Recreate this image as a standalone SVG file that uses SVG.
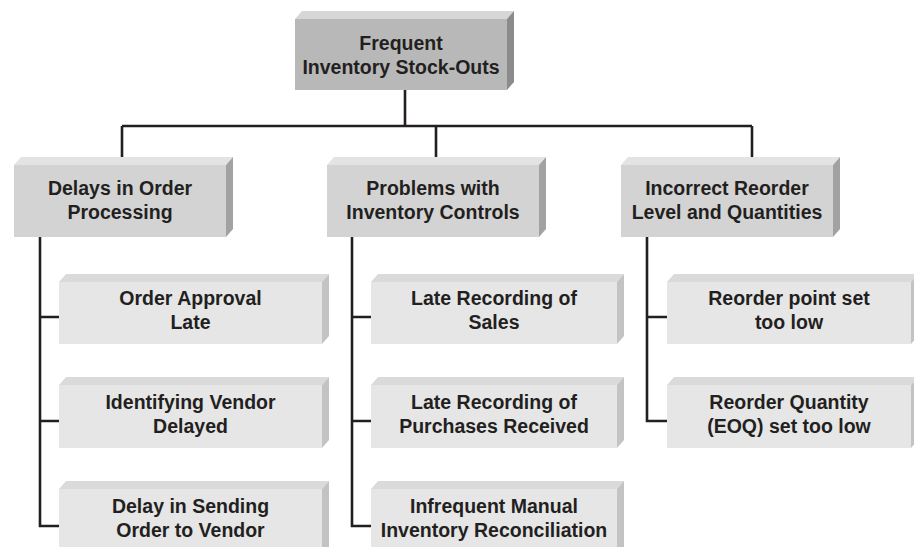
<svg xmlns="http://www.w3.org/2000/svg" width="914" height="547" viewBox="0 0 914 547">
<style>
text{font-family:"Liberation Sans",Arial,sans-serif;font-weight:bold;font-size:19.5px;fill:#231f20;text-anchor:middle}
.c{fill:none;stroke:#231f20;stroke-width:2.6}
.f0{fill:#b8b8b9}.t0{fill:#d6d6d7}.s0{fill:#8b8b8c}
.f1{fill:#d3d3d4}.t1{fill:#e3e3e3}.s1{fill:#a2a2a3}
.f2{fill:#e6e6e7}.t2{fill:#dadadb}.s2{fill:#c3c3c4}
</style>
<rect width="914" height="547" fill="#ffffff"/>
<g id="connectors">
<path class="c" d="M405 90V126M122 126H752M122 126V157M436 126V157M752 126V157"/>
<path class="c" d="M40 237V526H59M40 317H59M40 421H59"/>
<path class="c" d="M352 237V526H371M352 317H371M352 421H371"/>
<path class="c" d="M647 237V421H667M647 317H667"/>
</g>
<g id="root">
<polygon class="t0" points="295,19 302,11 514,11 507,19"/>
<polygon class="s0" points="507,19 514,11 514,82 507,90"/>
<rect class="f0" x="295" y="19" width="212" height="71"/>
<text x="401" y="50">Frequent</text>
<text x="401" y="74">Inventory Stock-Outs</text>
</g>
<g id="delays">
<polygon class="t1" points="14,165 21,157 233,157 226,165"/>
<polygon class="s1" points="226,165 233,157 233,229 226,237"/>
<rect class="f1" x="14" y="165" width="212" height="72"/>
<text x="120" y="195">Delays in Order</text>
<text x="120" y="219">Processing</text>
</g>
<g id="problems">
<polygon class="t1" points="327,165 334,157 546,157 539,165"/>
<polygon class="s1" points="539,165 546,157 546,229 539,237"/>
<rect class="f1" x="327" y="165" width="212" height="72"/>
<text x="433" y="195">Problems with</text>
<text x="433" y="219">Inventory Controls</text>
</g>
<g id="incorrect">
<polygon class="t1" points="621,165 628,157 840,157 833,165"/>
<polygon class="s1" points="833,165 840,157 840,229 833,237"/>
<rect class="f1" x="621" y="165" width="212" height="72"/>
<text x="727" y="195">Incorrect Reorder</text>
<text x="727" y="219">Level and Quantities</text>
</g>
<g id="approval">
<polygon class="t2" points="59,282 66,274 329,274 322,282"/>
<polygon class="s2" points="322,282 329,274 329,336 322,344"/>
<rect class="f2" x="59" y="282" width="263" height="62"/>
<text x="190.5" y="305">Order Approval</text>
<text x="190.5" y="329">Late</text>
</g>
<g id="vendor">
<polygon class="t2" points="59,385 66,377 329,377 322,385"/>
<polygon class="s2" points="322,385 329,377 329,440 322,448"/>
<rect class="f2" x="59" y="385" width="263" height="63"/>
<text x="190.5" y="409">Identifying Vendor</text>
<text x="190.5" y="433">Delayed</text>
</g>
<g id="sending">
<polygon class="t2" points="59,489 66,481 329,481 322,489"/>
<polygon class="s2" points="322,489 329,481 329,547 322,547"/>
<rect class="f2" x="59" y="489" width="263" height="62"/>
<text x="190.5" y="513">Delay in Sending</text>
<text x="190.5" y="537">Order to Vendor</text>
</g>
<g id="sales">
<polygon class="t2" points="371,282 378,274 624,274 617,282"/>
<polygon class="s2" points="617,282 624,274 624,336 617,344"/>
<rect class="f2" x="371" y="282" width="246" height="62"/>
<text x="494" y="305">Late Recording of</text>
<text x="494" y="329">Sales</text>
</g>
<g id="purchases">
<polygon class="t2" points="371,385 378,377 624,377 617,385"/>
<polygon class="s2" points="617,385 624,377 624,440 617,448"/>
<rect class="f2" x="371" y="385" width="246" height="63"/>
<text x="494" y="409">Late Recording of</text>
<text x="494" y="433">Purchases Received</text>
</g>
<g id="reconciliation">
<polygon class="t2" points="371,489 378,481 624,481 617,489"/>
<polygon class="s2" points="617,489 624,481 624,547 617,547"/>
<rect class="f2" x="371" y="489" width="246" height="62"/>
<text x="494" y="513">Infrequent Manual</text>
<text x="494" y="537">Inventory Reconciliation</text>
</g>
<g id="reorderpoint">
<polygon class="t2" points="667,282 674,274 918,274 911,282"/>
<polygon class="s2" points="911,282 918,274 918,336 911,344"/>
<rect class="f2" x="667" y="282" width="244" height="62"/>
<text x="789" y="305">Reorder point set</text>
<text x="789" y="329">too low</text>
</g>
<g id="reorderqty">
<polygon class="t2" points="667,385 674,377 918,377 911,385"/>
<polygon class="s2" points="911,385 918,377 918,440 911,448"/>
<rect class="f2" x="667" y="385" width="244" height="63"/>
<text x="789" y="409">Reorder Quantity</text>
<text x="789" y="433">(EOQ) set too low</text>
</g>
</svg>
